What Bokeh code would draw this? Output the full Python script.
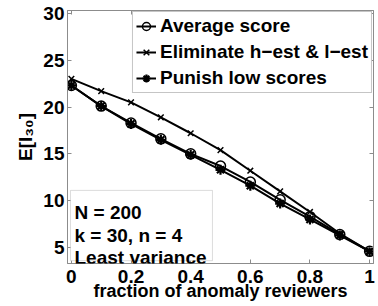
from bokeh.plotting import figure
from bokeh.models import (Range1d, FixedTicker, LinearAxis, Legend, LegendItem,
                          Label, BoxAnnotation)
from bokeh.embed import file_html
from bokeh.resources import INLINE

# ---- data ----
fraction = [0.0, 0.1, 0.2, 0.3, 0.4, 0.5, 0.6, 0.7, 0.8, 0.9, 1.0]
average_score = [22.3, 20.1, 18.3, 16.6, 15.0, 13.7, 12.0, 10.1, 8.3, 6.4, 4.6]
eliminate_hl = [23.0, 21.7, 20.5, 18.9, 17.2, 15.4, 13.2, 11.0, 8.8, 6.5, 4.6]
punish_low = [22.3, 20.1, 18.2, 16.5, 14.9, 13.3, 11.6, 9.7, 8.0, 6.3, 4.6]

x_ticks = [0, 0.2, 0.4, 0.6, 0.8, 1.0]
x_tick_labels = ["0", "0.2", "0.4", "0.6", "0.8", "1"]
y_ticks = [5, 10, 15, 20, 25, 30]
series_names = ["Average score", "Eliminate h\u2212est & l\u2212est", "Punish low scores"]
info_lines = ["N = 200", "k = 30, n = 4", "Least variance"]
x_label = "fraction of anomaly reviewers"
y_label = "E[I\u2083\u2080]"

FONT = "Liberation Sans"
FRAME = "#8c8c8c"

p = figure(width=378, height=306, output_backend="svg", toolbar_location=None,
           x_range=Range1d(-0.013, 1.013), y_range=Range1d(3.3, 30.3),
           min_border_left=67, min_border_right=5, min_border_top=10,
           min_border_bottom=43)
p.grid.visible = False
p.outline_line_color = FRAME
p.outline_line_width = 1

for ax in (p.xaxis[0], p.yaxis[0]):
    ax.axis_line_color = FRAME
    ax.major_tick_line_color = FRAME
    ax.major_tick_out = 0
    ax.major_tick_in = 4
    ax.minor_tick_line_color = None
    ax.major_label_text_font = FONT
    ax.major_label_text_font_style = "bold"
    ax.major_label_text_font_size = "19px"
    ax.major_label_text_color = "black"
    ax.axis_label_text_font = FONT
    ax.axis_label_text_font_style = "bold"
    ax.axis_label_text_color = "black"

xa = p.xaxis[0]
xa.ticker = FixedTicker(ticks=x_ticks)
xa.major_label_overrides = {t: s for t, s in zip(x_ticks, x_tick_labels)}
xa.major_label_standoff = 6
xa.axis_label = x_label
xa.axis_label_text_font_size = "18px"
xa.axis_label_standoff = -5

ya = p.yaxis[0]
ya.ticker = FixedTicker(ticks=y_ticks)
ya.major_label_standoff = 3
ya.axis_label = y_label
ya.axis_label_text_font_size = "19px"
ya.axis_label_standoff = 4

# ticks on top and right (box)
top_ax = LinearAxis(ticker=FixedTicker(ticks=x_ticks))
right_ax = LinearAxis(ticker=FixedTicker(ticks=y_ticks))
top_ax.major_label_overrides = {t: "" for t in x_ticks}
right_ax.major_label_overrides = {t: "" for t in y_ticks}
for ax in (top_ax, right_ax):
    ax.axis_line_color = FRAME
    ax.major_tick_line_color = FRAME
    ax.major_tick_out = 0
    ax.major_tick_in = 4
    ax.minor_tick_line_color = None
    ax.major_label_text_font_size = "2px"
    ax.major_label_standoff = 0
p.add_layout(top_ax, "above")
p.add_layout(right_ax, "right")

# ---- series ----
r1l = p.line(fraction, average_score, line_color="black", line_width=2)
r1m = p.scatter(fraction, average_score, marker="circle", size=10,
                line_color="black", fill_color=None, line_width=1.5)
r2l = p.line(fraction, eliminate_hl, line_color="black", line_width=2)
r2m = p.scatter(fraction, eliminate_hl, marker="x", size=8,
                line_color="black", line_width=1.5)
r3l = p.line(fraction, punish_low, line_color="black", line_width=2)
r3m = p.scatter(fraction, punish_low, marker="asterisk", size=10,
                line_color="black", line_width=2.2)

legend = Legend(items=[
    LegendItem(label=series_names[0], renderers=[r1l, r1m]),
    LegendItem(label=series_names[1], renderers=[r2l, r2m]),
    LegendItem(label=series_names[2], renderers=[r3l, r3m]),
], location="top_right")
legend.margin = 1
legend.padding = 3
legend.spacing = 4
legend.label_height = 20
legend.glyph_height = 20
legend.glyph_width = 20
legend.label_standoff = 4
legend.label_text_font = FONT
legend.label_text_font_style = "bold"
legend.label_text_font_size = "19px"
legend.label_text_color = "black"
legend.border_line_color = FRAME
legend.border_line_width = 1
legend.background_fill_color = "white"
legend.background_fill_alpha = 1
p.add_layout(legend)

# ---- info box ----
p.add_layout(BoxAnnotation(left=-0.003, right=0.473, top=11.1, bottom=3.6,
                           fill_color="white", fill_alpha=1,
                           line_color=FRAME, line_width=1))
for txt, yv in zip(info_lines, [8.74, 6.29, 3.94]):
    p.add_layout(Label(x=0.0105, y=yv, text=txt, text_font=FONT,
                       text_font_style="bold", text_font_size="19px",
                       text_color="black", text_baseline="alphabetic",
                       text_align="left"))

open("out.html", "w").write(file_html(p, INLINE))
